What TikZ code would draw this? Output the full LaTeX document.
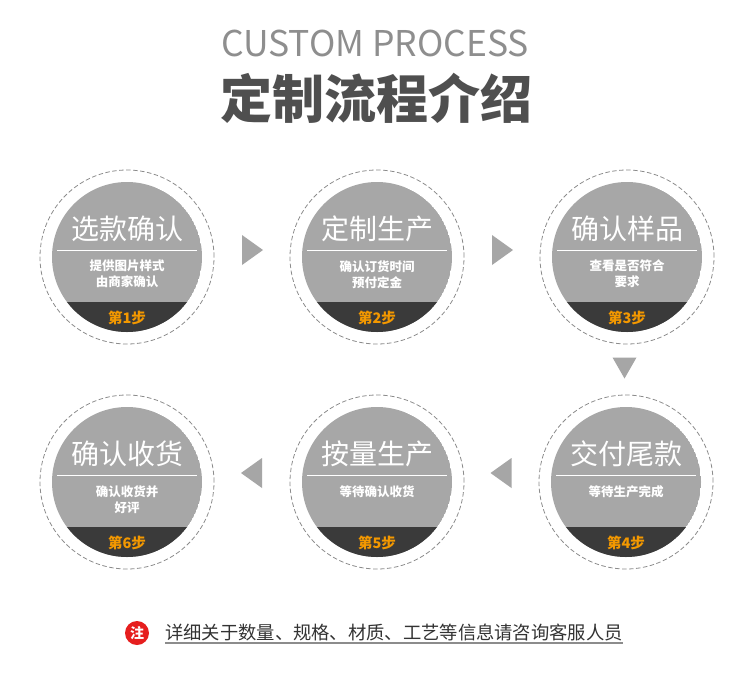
\documentclass[tikz,border=0pt]{standalone}
\usepackage{fontspec}
\setmainfont{Noto Sans CJK SC}
\newfontfamily\cjk{Noto Sans CJK SC}
\usetikzlibrary{calc}
\definecolor{fillgray}{HTML}{A7A7A7}
\definecolor{bandgray}{HTML}{3A3A3A}
\definecolor{steporange}{HTML}{F39800}
\definecolor{arrowgray}{HTML}{A6A6A6}
\definecolor{dashgray}{HTML}{8C8C8C}
\definecolor{titlegray}{HTML}{8E8E8E}
\definecolor{headgray}{HTML}{4F4F4F}
\definecolor{notered}{HTML}{E61E1E}
\definecolor{notetext}{HTML}{333333}
\tikzset{
  outerring/.style={circle, draw=dashgray, dashed, dash pattern=on 4.5pt off 2.5pt, line width=0.8pt, minimum size=174pt, inner sep=0pt},
  ttl/.style={text=white, font=\cjk\fontsize{28}{30}\selectfont, inner sep=0pt},
  sub/.style={text=white, font=\cjk\bfseries\fontsize{12.5}{16}\selectfont, align=center, inner sep=0pt, anchor=north},
  steplbl/.style={text=steporange, font=\cjk\bfseries\fontsize{14.5}{16}\selectfont, inner sep=0pt},
  tri/.style={fill=arrowgray, draw=none}
}
\begin{document}
\begin{tikzpicture}[x=1pt,y=-1pt]
\useasboundingbox[fill=white] (0,0) rectangle (750,694);
% titles
\node[text=titlegray, font=\fontsize{35.5}{38}\selectfont, inner sep=0pt] (eng) at (375,43) {CUSTOM PROCESS};
\node[text=headgray, font=\bfseries\fontsize{52}{54}\selectfont, inner sep=0pt] (cn) at (376,98) {定制流程介绍};
% steps
\foreach \n/\x/\y/\t/\s/\k in {
  1/127/257/选款确认/{提供图片样式\\由商家确认}/1,
  2/377/257/定制生产/{确认订货时间\\预付定金}/2,
  3/627/257/确认样品/{查看是否符合\\要求}/3,
  4/626/482/交付尾款/{等待生产完成}/4,
  5/377/482/按量生产/{等待确认收货}/5,
  6/127/482/确认收货/{确认收货并\\好评}/6}{
  \node[outerring] (s\n) at (\x,\y) {};
  \begin{scope}
    \clip (s\n.center) circle (75pt);
    \fill[fillgray] (s\n.center) circle (75pt);
    \fill[bandgray] ($(s\n.center)+(-80,45)$) rectangle ($(s\n.center)+(80,80)$);
  \end{scope}
  \draw[white, line width=1pt] ($(s\n.center)+(-70,-7)$) -- ($(s\n.center)+(70,-7)$);
  \node[ttl] (t\n) at ($(s\n.center)+(0,-28)$) {\t};
  \node[sub] (d\n) at ($(s\n.center)+(0,3)$) {\s};
  \node[steplbl] (k\n) at ($(s\n.center)+(0,61)$) {第\k 步};
}
% arrows
\coordinate (a12) at ($(s1.center)!0.5!(s2.center)+(0,-7)$);
\coordinate (a23) at ($(s2.center)!0.5!(s3.center)+(0,-7)$);
\coordinate (a54) at ($(s5.center)!0.5!(s4.center)+(0,-9)$);
\coordinate (a65) at ($(s6.center)!0.5!(s5.center)+(0,-9)$);
\coordinate (a34) at ($(s3.center)!0.5!(s4.center)+(-2,-2)$);
\fill[tri] ($(a12)+(-10,-15)$) -- ($(a12)+(11,0)$) -- ($(a12)+(-10,15)$) -- cycle;
\fill[tri] ($(a23)+(-10,-15)$) -- ($(a23)+(11,0)$) -- ($(a23)+(-10,15)$) -- cycle;
\fill[tri] ($(a54)+(10,-15)$) -- ($(a54)+(-11,0)$) -- ($(a54)+(10,15)$) -- cycle;
\fill[tri] ($(a65)+(10,-15)$) -- ($(a65)+(-11,0)$) -- ($(a65)+(10,15)$) -- cycle;
\fill[tri] ($(a34)+(-12,-10)$) -- ($(a34)+(12,-10)$) -- ($(a34)+(0,11)$) -- cycle;
% footer note
\node[circle, fill=notered, minimum size=24pt, inner sep=0pt, text=white, font=\cjk\bfseries\fontsize{14}{14}\selectfont] (noteicon) at (137,633) {注};
\node[anchor=west, text=notetext, font=\cjk\fontsize{18.3}{20}\selectfont, inner sep=0pt] (notetxt) at (165,633) {详细关于数量、规格、材质、工艺等信息请咨询客服人员};
\draw[dashgray, line width=1.2pt] (notetxt.south west |- 0,643) -- (notetxt.south east |- 0,643);
\end{tikzpicture}
\end{document}
